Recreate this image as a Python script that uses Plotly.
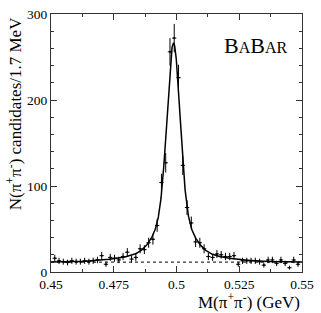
import numpy as np
import plotly.graph_objects as go

# ---- data ----
mass_gev = [0.4515, 0.4532, 0.4549, 0.4566, 0.4583, 0.4600, 0.4617, 0.4634, 0.4651, 0.4668,
            0.4685, 0.4702, 0.4719, 0.4736, 0.4753, 0.4770, 0.4787, 0.4804, 0.4821, 0.4838,
            0.4855, 0.4872, 0.4889, 0.4906, 0.4923, 0.4940, 0.4957, 0.4974, 0.4991, 0.5008,
            0.5025, 0.5042, 0.5059, 0.5076, 0.5093, 0.5110, 0.5127, 0.5144, 0.5161, 0.5178,
            0.5195, 0.5212, 0.5229, 0.5246, 0.5263, 0.5280, 0.5297, 0.5314, 0.5331, 0.5348,
            0.5365, 0.5382, 0.5399, 0.5416, 0.5433, 0.5450, 0.5467, 0.5484]
counts = [16, 13, 12, 11, 13, 12, 12, 13, 12, 13,
          14, 19, 9, 17, 16, 14, 18, 23, 15, 17,
          27, 26, 34, 38, 54, 104, 127, 256, 272, 226,
          124, 75, 57, 35, 34, 27, 18, 17, 21, 20,
          18, 18, 19, 9, 13, 13, 13, 13, 12, 8,
          14, 14, 10, 14, 10, 5, 14, 9]
half_bin = 0.00085

# fit parameters
fit_mass = 0.4988
fit_sigmas = [0.0025, 0.006, 0.016]
fit_amps = [191, 52, 11.6]
background_level = 11.5

x_ticks = [0.45, 0.475, 0.5, 0.525, 0.55]
x_ticktext = ["0.45", "0.475", "0.5", "0.525", "0.55"]
y_ticks = [0, 100, 200, 300]
x_range = [0.45, 0.55]
y_range = [0, 300]

# ---- build figure ----
xf = np.linspace(x_range[0], x_range[1], 1200)
yf = np.full_like(xf, background_level)
for s, a in zip(fit_sigmas, fit_amps):
    yf = yf + a * np.exp(-0.5 * ((xf - fit_mass) / s) ** 2)

FONT = "Liberation Serif, Times New Roman, serif"

fig = go.Figure()
fig.add_trace(go.Scatter(x=list(x_range), y=[background_level, background_level], mode="lines",
                         line=dict(color="black", width=1, dash="3px,3px"), hoverinfo="skip"))
fig.add_trace(go.Scatter(x=xf, y=yf, mode="lines", line=dict(color="black", width=1.5)))
fig.add_trace(go.Scatter(
    x=mass_gev, y=counts, mode="markers",
    marker=dict(color="black", size=2),
    error_y=dict(type="data", array=list(np.sqrt(counts)), color="black", thickness=1, width=0),
    error_x=dict(type="constant", value=half_bin, color="black", thickness=1, width=0),
))

axis_common = dict(showline=True, linecolor="#333", linewidth=1, mirror="allticks",
                   ticks="inside", ticklen=6, tickcolor="#333", tickwidth=1,
                   showgrid=False, zeroline=False, ticklabeloverflow="allow",
                   tickfont=dict(family=FONT, size=13.5, color="black"))

fig.update_xaxes(range=x_range, tickvals=x_ticks, ticktext=x_ticktext,
                 minor=dict(ticks="inside", ticklen=3, dtick=0.0125, tick0=0.45, tickcolor="#333"),
                 ticklabelstandoff=0,
                 **axis_common)
fig.update_yaxes(range=y_range, tickvals=y_ticks,
                 minor=dict(ticks="inside", ticklen=3, dtick=20, tick0=0, tickcolor="#333"),
                 **axis_common)

fig.update_layout(
    width=321, height=313,
    margin=dict(l=51, r=7, t=7, b=41),
    paper_bgcolor="white", plot_bgcolor="white",
    showlegend=False,
    annotations=[
        dict(text="B<span style='font-size:16px'>A</span>B<span style='font-size:16px'>AR</span>",
             xref="paper", yref="paper", x=0.683, y=0.879, xanchor="left", yanchor="middle",
             showarrow=False, font=dict(family=FONT, size=22, color="black")),
        dict(text="N(π<sup>+</sup>π<sup>-</sup>) candidates/1.7 MeV",
             xref="paper", yref="paper", x=-0.148, y=0.615, xanchor="center", yanchor="middle",
             textangle=-90, showarrow=False, font=dict(family=FONT, size=17, color="black")),
        dict(text="M(π<sup>+</sup>π<sup>-</sup>) (GeV)",
             xref="paper", yref="paper", x=0.995, y=-0.1585, xanchor="right", yanchor="bottom",
             showarrow=False, borderpad=0, font=dict(family=FONT, size=17, color="black")),
    ],
)

fig.write_html("out.html")
